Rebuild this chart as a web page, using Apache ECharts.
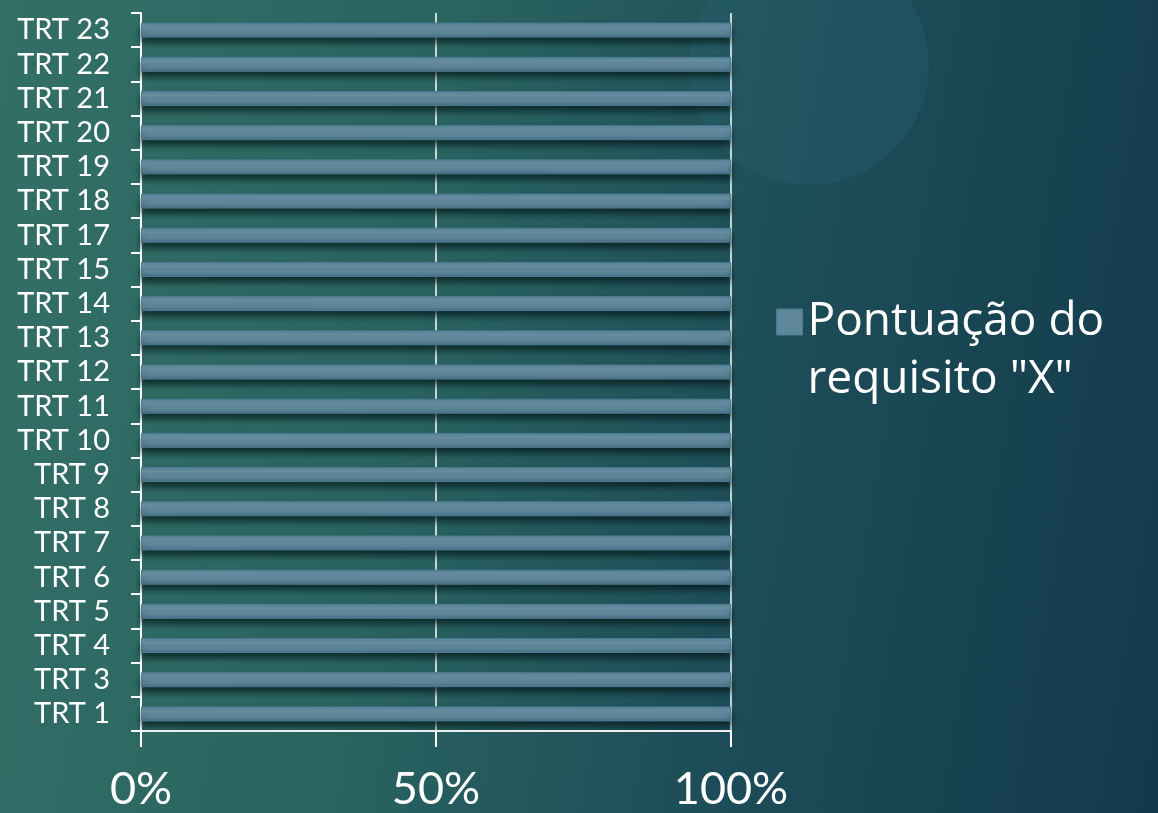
<!DOCTYPE html>
<html lang="pt">
<head>
    <meta charset="UTF-8">
    <title>Pontuação do requisito "X"</title>
    <script src="https://cdn.jsdelivr.net/npm/echarts@6/dist/echarts.min.js"></script>
    <style>
        html, body {
            margin: 0;
            padding: 0;
            width: 1158px;
            height: 813px;
            overflow: hidden;
            background: linear-gradient(100deg, #346f67 0%, #2a6461 35%, #1d4d58 65%, #133a4b 100%);
        }
        #chart { width: 1158px; height: 813px; }
    </style>
</head>
<body>
<div id="chart"></div>
<script>
// categorias de baixo para cima
var categories = ['TRT 1', 'TRT 3', 'TRT 4', 'TRT 5', 'TRT 6', 'TRT 7', 'TRT 8', 'TRT 9',
    'TRT 10', 'TRT 11', 'TRT 12', 'TRT 13', 'TRT 14', 'TRT 15', 'TRT 17', 'TRT 18',
    'TRT 19', 'TRT 20', 'TRT 21', 'TRT 22', 'TRT 23'];
var scores = [1, 1, 1, 1, 1, 1, 1, 1, 1, 1, 1, 1, 1, 1, 1, 1, 1, 1, 1, 1, 1];
var seriesName = 'Pontuação do\nrequisito "X"';

var chart = echarts.init(document.getElementById('chart'));

var option = {
    backgroundColor: 'transparent',
    animation: false,
    graphic: [{
        type: 'circle',
        z: -10,
        shape: { cx: 809, cy: 65, r: 120 },
        style: { fill: 'rgba(45,105,118,0.25)' }
    }],
    grid: { left: 141, right: 427, top: 13, bottom: 82 },
    legend: {
        left: 771,
        top: 230,
        orient: 'vertical',
        icon: 'rect',
        itemWidth: 26,
        itemHeight: 26,
        // linha vazia antes do texto para o quadrado ficar alinhado com a 1a linha
        formatter: function (name) { return ' \n' + name; },
        textStyle: {
            color: '#ffffff',
            fontFamily: '"Open Sans", "DejaVu Sans", sans-serif',
            fontSize: 46,
            lineHeight: 58
        },
        data: [{ name: seriesName, itemStyle: { color: '#5f879c', borderColor: '#4e7a90', borderWidth: 1 } }]
    },
    xAxis: {
        type: 'value',
        min: 0,
        max: 1,
        interval: 0.5,
        axisLine: { show: true, lineStyle: { color: '#ffffff', width: 2 } },
        axisTick: { show: true, length: 16, lineStyle: { color: '#ffffff', width: 2 } },
        splitLine: { show: true, lineStyle: { color: '#ffffff', width: 1.5 } },
        axisLabel: {
            color: '#ffffff',
            fontFamily: 'Lato, sans-serif',
            fontSize: 45,
            margin: 36,
            formatter: function (v) { return Math.round(v * 100) + '%'; }
        }
    },
    yAxis: {
        type: 'category',
        data: categories,
        axisLine: { show: true, lineStyle: { color: '#ffffff', width: 2 } },
        axisTick: { show: true, length: 10, lineStyle: { color: '#ffffff', width: 2 } },
        axisLabel: {
            color: '#ffffff',
            fontFamily: 'Lato, sans-serif',
            fontSize: 29,
            margin: 31,
            interval: 0
        }
    },
    series: [{
        name: seriesName,
        type: 'bar',
        data: scores,
        barWidth: 15,
        itemStyle: {
            color: new echarts.graphic.LinearGradient(0, 0, 0, 1, [
                { offset: 0, color: '#5a8499' },
                { offset: 0.3, color: '#7099ad' },
                { offset: 0.7, color: '#5f889c' },
                { offset: 1, color: '#466d82' }
            ]),
            borderColor: '#4c7b92',
            borderWidth: 1,
            shadowColor: 'rgba(5,25,25,0.75)',
            shadowBlur: 6,
            shadowOffsetY: 5
        }
    }]
};

chart.setOption(option);
</script>
</body>
</html>
